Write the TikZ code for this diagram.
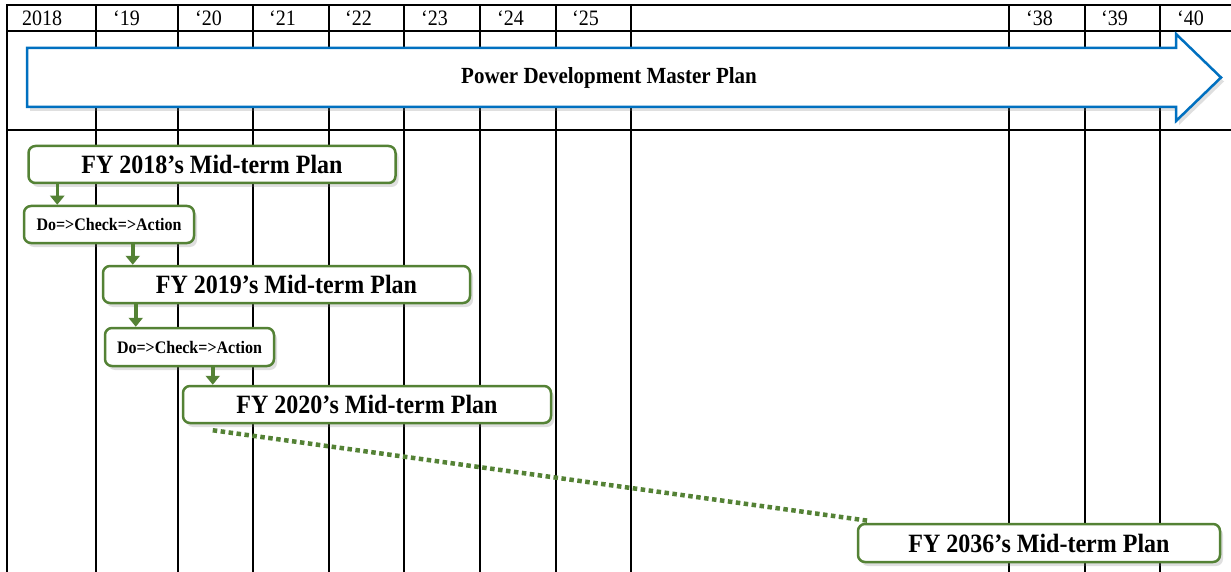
\documentclass[tikz,border=0pt]{standalone}
\usepackage{fontspec}
\usepackage{graphicx}
\setmainfont{Liberation Serif}
\usetikzlibrary{shadows,arrows.meta}
\definecolor{pgreen}{HTML}{548235}
\definecolor{pblue}{HTML}{0070C0}
\newcommand\vstretch[1]{\scalebox{1}[1.1]{#1}}
\begin{document}
\begin{tikzpicture}[x=1pt,y=-1pt,
  gridline/.style={line width=1.8pt, black},
  yearlab/.style={anchor=base west, font=\fontsize{20}{20}\selectfont, inner sep=0pt},
  plan/.style={draw=pgreen, line width=2.5pt, fill=white, rounded corners=7pt,
    drop shadow={shadow xshift=3pt,shadow yshift=-4pt,opacity=0.25},
    font=\bfseries\fontsize{24}{24}\selectfont, inner sep=0pt, minimum height=37pt},
  pdca/.style={plan, font=\bfseries\fontsize{16}{16}\selectfont},
  garrow/.style={pgreen, line width=3.5pt, -{Triangle[width=14pt,length=9pt]}},
  dotline/.style={pgreen, line width=4.5pt, dash pattern=on 4.5pt off 3.5pt},
  masterarrow/.style={draw=pblue, line width=2.5pt, fill=white, line join=miter,
    drop shadow={shadow xshift=3pt,shadow yshift=-4pt,opacity=0.25}}
]
\useasboundingbox (0,0) rectangle (1231,572);
\fill[white] (0,0) rectangle (1231,572);

% grid
\foreach \gx in {7,96,178,253,329,404,480,556,631,1009,1085,1160}
  \draw[gridline] (\gx,5) -- (\gx,572);
\foreach \gy in {5,31,130}
  \draw[gridline] (6.1,\gy) -- (1231,\gy);

% year labels
\node[yearlab] (y18) at (22,26) {\vstretch{2018}};
\node[yearlab] (y19) at (113,26) {\vstretch{‘19}};
\node[yearlab] (y20) at (195,26) {\vstretch{‘20}};
\node[yearlab] (y21) at (269,26) {\vstretch{‘21}};
\node[yearlab] (y22) at (345,26) {\vstretch{‘22}};
\node[yearlab] (y23) at (421,26) {\vstretch{‘23}};
\node[yearlab] (y24) at (497,26) {\vstretch{‘24}};
\node[yearlab] (y25) at (572,26) {\vstretch{‘25}};
\node[yearlab] (y38) at (1026,26) {\vstretch{‘38}};
\node[yearlab] (y39) at (1101,26) {\vstretch{‘39}};
\node[yearlab] (y40) at (1177,26) {\vstretch{‘40}};

% master plan arrow
\draw[masterarrow] (27,48) -- (1176,48) -- (1176,34) -- (1221,77.5) -- (1176,121) -- (1176,107) -- (27,107) -- cycle;
\node[font=\bfseries\fontsize{21}{21}\selectfont] (mp) at (609,77.5) {\vstretch{Power Development Master Plan}};

% plan boxes
\node[plan, minimum width=367pt] (p18) at (212,164.5) {\vstretch{FY 2018’s Mid-term Plan}};
\node[pdca, minimum width=170pt] (d1) at (109,224.5) {\vstretch{Do=>Check=>Action}};
\node[plan, minimum width=367pt] (p19) at (286.5,284.5) {\vstretch{FY 2019’s Mid-term Plan}};
\node[pdca, minimum width=169pt, minimum height=38pt] (d2) at (189.5,347) {\vstretch{Do=>Check=>Action}};
\node[plan, minimum width=368pt] (p20) at (367,404.5) {\vstretch{FY 2020’s Mid-term Plan}};
\node[plan, minimum width=362pt, minimum height=38pt] (p36) at (1039,543) {\vstretch{FY 2036’s Mid-term Plan}};

% connectors
\coordinate (a1) at ([xshift=30pt]p18.south west);
\coordinate (a2) at ([xshift=110pt]d1.south west);
\coordinate (a3) at ([xshift=34pt]p19.south west);
\coordinate (a4) at ([xshift=109pt]d2.south west);
\draw[garrow] (a1) -- (a1 |- d1.north);
\draw[garrow] (a2) -- (a2 |- p19.north);
\draw[garrow] (a3) -- (a3 |- d2.north);
\draw[garrow] (a4) -- (a4 |- p20.north);

\coordinate (ds) at ([xshift=31pt,yshift=-6pt]p20.south west);
\coordinate (de) at (870,521);
\draw[dotline] (ds) -- (de);
\end{tikzpicture}
\end{document}
